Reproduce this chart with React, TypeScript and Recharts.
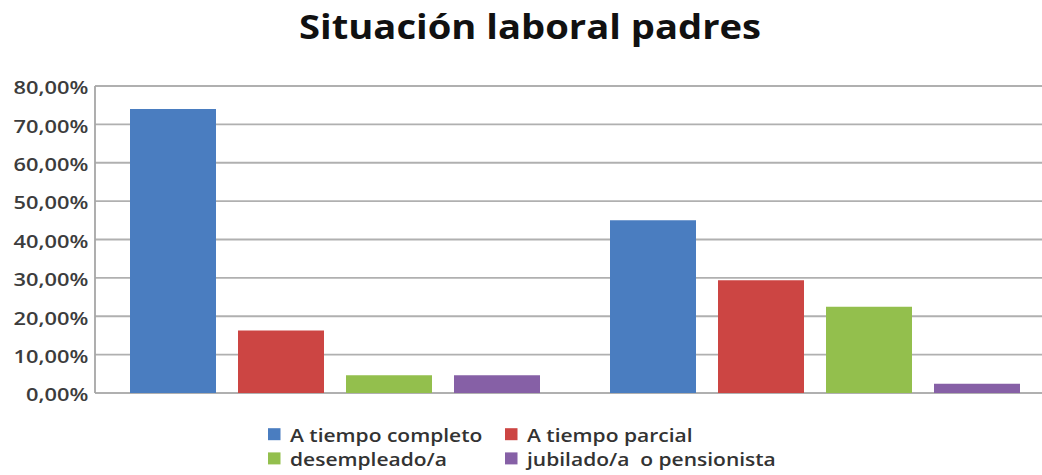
import React from 'react';
import { BarChart, Bar, XAxis, YAxis, CartesianGrid } from 'recharts';

const categories = ['Padre', 'Madre'];
const seriesKeys = ['completo', 'parcial', 'desempleado', 'jubilado'];
const seriesNames = ['A tiempo completo', 'A tiempo parcial', 'desempleado/a', 'jubilado/a  o pensionista'];
const seriesColors = ['#4a7dc0', '#cc4543', '#93bf4d', '#8660a6'];
const completo = [74.0, 45.0];
const parcial = [16.3, 29.4];
const desempleado = [4.6, 22.5];
const jubilado = [4.6, 2.4];
const yTicks = [0, 10, 20, 30, 40, 50, 60, 70, 80];
const title = 'Situación laboral padres';

const seriesValues = [completo, parcial, desempleado, jubilado];
const data = categories.map((cat, i) => {
  const row: Record<string, any> = { cat };
  seriesKeys.forEach((k, s) => {
    row[k] = seriesValues[s][i];
  });
  return row;
});

const SX = 1.18;
const FONT = '"Open Sans", "DejaVu Sans", sans-serif';
const fmt = (v: number) => v.toFixed(2).replace('.', ',') + '%';

const YTick = (props: any) => {
  const { x, y, payload } = props;
  return (
    <g transform={`translate(${x},${y + 8.3}) scale(${SX},1)`}>
      <text x={0} y={0} textAnchor="end" fill="#3c3c3c" fontSize={18.5} fontWeight={600} fontFamily={FONT}>
        {fmt(payload.value)}
      </text>
    </g>
  );
};

const legendCols = [268, 505];
const legendRows = [441.7, 465.9];

export default function App() {
  return (
    <div
      style={{
        position: 'absolute',
        left: 0,
        top: 0,
        width: 1042,
        height: 475,
        overflow: 'hidden',
        background: '#fff',
      }}
    >
      <BarChart
        width={1060}
        height={475}
        data={data}
        margin={{ top: 86, right: 5, bottom: 82, left: 0 }}
        barSize={86}
        barGap={22}
      >
        <CartesianGrid vertical={false} stroke="#b0b0b0" strokeWidth={1.8} />
        <XAxis
          dataKey="cat"
          height={0}
          tick={false}
          tickLine={false}
          axisLine={{ stroke: '#8f8f8f', strokeWidth: 1.8 }}
        />
        <YAxis
          width={95}
          domain={[0, 80]}
          ticks={yTicks}
          interval={0}
          tickLine={false}
          tickSize={0}
          tickMargin={6.7}
          axisLine={{ stroke: '#a6a6a6', strokeWidth: 1.8 }}
          tick={<YTick />}
        />
        {seriesKeys.map((k, s) => (
          <Bar key={k} dataKey={k} name={seriesNames[s]} fill={seriesColors[s]} isAnimationActive={false} />
        ))}
      </BarChart>
      <svg
        width={1042}
        height={475}
        style={{ position: 'absolute', left: 0, top: 0, pointerEvents: 'none' }}
      >
        <g transform={`translate(530,38.5) scale(1.14,1)`}>
          <text x={0} y={0} textAnchor="middle" fontFamily={FONT} fontWeight={700} fontSize={33.5} fill="#111">
            {title}
          </text>
        </g>
        {seriesNames.map((name, i) => {
          const col = legendCols[i % 2];
          const base = legendRows[Math.floor(i / 2)];
          return (
            <g key={name}>
              <rect x={col} y={base - 13.5} width={12.5} height={12} fill={seriesColors[i]} />
              <g transform={`translate(${col + 22},${base}) scale(${SX},1)`}>
                <text x={0} y={0} fontFamily={FONT} fontSize={17.8} fontWeight={600} fill="#333" style={{ whiteSpace: 'pre' }}>
                  {name}
                </text>
              </g>
            </g>
          );
        })}
      </svg>
    </div>
  );
}
